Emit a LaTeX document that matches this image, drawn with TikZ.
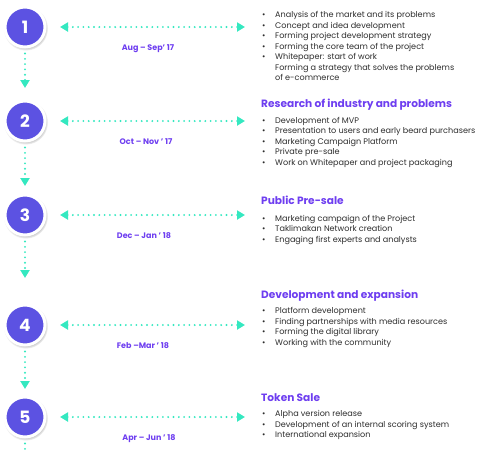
\documentclass[tikz,border=0pt]{standalone}
\usepackage{fontspec}
\setmainfont{Poppins}
\usetikzlibrary{arrows.meta, shadows, math}
\definecolor{tlpurple}{RGB}{92,82,226}
\definecolor{tlhead}{RGB}{110,62,240}
\definecolor{tlteal}{RGB}{52,232,192}
\definecolor{tltext}{RGB}{45,45,45}

\begin{document}
\begin{tikzpicture}[x=1pt,y=-1pt,
  stage/.style={circle, minimum size=40pt, inner sep=0pt, fill=tlpurple, draw=white, line width=3pt,
    text=white, font=\fontsize{17}{17}\selectfont\bfseries,
    circular drop shadow={shadow xshift=0.6pt, shadow yshift=-1.2pt, shadow scale=1.12, opacity=0.45}},
  dots/.style={tlteal, line width=2.1pt, line cap=round, dash pattern=on 0pt off 5.3pt},
  period/.style={inner sep=0pt, anchor=base, text=tlhead, font=\fontsize{8}{9}\selectfont\bfseries},
  heading/.style={inner sep=0pt, anchor=base west, text=tlhead, font=\fontsize{10.6}{12}\selectfont\bfseries},
  items/.style={inner sep=0pt, anchor=base west, text=tltext, font=\fontsize{8.1}{10.5}\selectfont}]

\useasboundingbox (0,0) rectangle (480,453);

\tikzmath{
\cx = 25;
\la = 60;
\ra = 245;
}
%
\foreach \i/\y/\dx/\dt in {1/27/148/{Aug – Sep’ 17}, 2/121/146/{Oct – Nov ’ 17},
  3/215/144/{Dec – Jan ’ 18}, 4/325/143/{Feb –Mar ’ 18}, 5/417/149/{Apr – Jun ’ 18}}{
  \node[stage] (s\i) at (\cx,\y) {\i};
  \coordinate (l\i) at (\la,\y);
  \coordinate (r\i) at (\ra,\y);
  \draw[dots, {Triangle[width=9pt,length=8pt]}-{Triangle[width=9pt,length=8pt]}] (l\i) -- (r\i);
  \node[period] (d\i) at (\dx,\y+23) {\dt};
}

\foreach \i/\j/\yv in {1/2/88, 2/3/186, 3/4/278, 4/5/389}{
  \coordinate (v\j) at (\cx,\yv);
  \draw[dots, -{Triangle[width=9pt,length=8pt]}, shorten <=5pt] (s\i) -- (v\j);
}
\coordinate (v6) at (\cx,462);
\draw[dots, shorten <=5pt] (s5) -- (v6);

\node[items] (t1) at (262,17.7) {\begin{tabular}[t]{@{}p{13pt}@{}l@{}}
\textbullet & Analysis of the market and its problems\\
\textbullet & Concept and idea development\\
\textbullet & Forming project development strategy\\
\textbullet & Forming the core team of the project\\
\textbullet & Whitepaper: start of work\\
 & Forming a strategy that solves the problems\\
 & of e-commerce
\end{tabular}};

\node[heading] (h2) at (261,107.5) {Research of industry and problems};
\node[items] (t2) at (262,123) {\begin{tabular}[t]{@{}p{13pt}@{}l@{}}
\textbullet & Development of MVP\\
\textbullet & Presentation to users and early beard purchasers\\
\textbullet & Marketing Campaign Platform\\
\textbullet & Private pre-sale\\
\textbullet & Work on Whitepaper and project packaging
\end{tabular}};

\node[heading] (h3) at (261,204.5) {Public Pre-sale};
\node[items] (t3) at (262,221.3) {\begin{tabular}[t]{@{}p{13pt}@{}l@{}}
\textbullet & Marketing campaign of the Project\\
\textbullet & Taklimakan Network creation\\
\textbullet & Engaging first experts and analysts
\end{tabular}};

\node[heading] (h4) at (261,298.5) {Development and expansion};
\node[items] (t4) at (262,313.7) {\begin{tabular}[t]{@{}p{13pt}@{}l@{}}
\textbullet & Platform development\\
\textbullet & Finding partnerships with media resources\\
\textbullet & Forming the digital library\\
\textbullet & Working with the community
\end{tabular}};

\node[heading] (h5) at (261,401) {Token Sale};
\node[items] (t5) at (262,416.7) {\begin{tabular}[t]{@{}p{13pt}@{}l@{}}
\textbullet & Alpha version release\\
\textbullet & Development of an internal scoring system\\
\textbullet & International expansion
\end{tabular}};

\end{tikzpicture}
\end{document}
